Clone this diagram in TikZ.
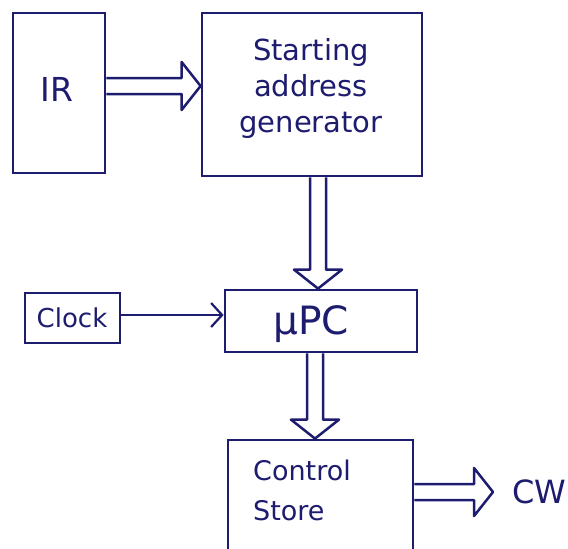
\documentclass[tikz,border=0pt]{standalone}
\usepackage{fontspec}
\setmainfont{DejaVu Sans}
\usetikzlibrary{calc,arrows.meta}
\definecolor{ink}{HTML}{1E1C6E}
\tikzset{
  box/.style={draw=ink, line width=2.8pt, inner sep=0pt},
  fat/.style={draw=ink, line width=2.5pt, line join=round,
    to path={
      let \p1=(\tikztostart), \p2=(\tikztotarget),
          \n1={atan2(\y2-\y1,\x2-\x1)}, \n2={veclen(\x2-\x1,\y2-\y1)} in
      [shift={(\p1)}, rotate=\n1]
      (0,-8) -- ({\n2-19},-8) -- ({\n2-19},-24) -- ({\n2},0)
      -- ({\n2-19},24) -- ({\n2-19},8) -- (0,8)
    }},
  thin/.style={draw=ink, line width=2.2pt,
    -{Straight Barb[length=11pt,width=24pt,line width=2.2pt]}},
  lbl/.style={text=ink, inner sep=0pt}
}
\begin{document}
\begin{tikzpicture}[x=1pt,y=-1pt]
\useasboundingbox (0,0) rectangle (568,549);
\fill[white] (0,0) rectangle (568,549);
\clip (0,0) rectangle (568,549);

% blocks
\node[box, minimum width=92pt, minimum height=160pt] (ir) at (59,93) {};
\node[box, minimum width=220pt, minimum height=163pt] (sag) at (312,94.5) {};
\node[box, minimum width=95pt, minimum height=50pt] (clk) at (72.5,318) {};
\node[box, minimum width=192pt, minimum height=62pt] (upc) at (321,321) {};
\node[box, minimum width=185pt, minimum height=130pt] (cs) at (320.5,505) {};

% labels
\node[lbl, font=\fontsize{33}{36}\selectfont] (irtxt) at (57,89) {IR};
\node[lbl, font=\fontsize{29}{36}\selectfont, align=center] (sagtxt) at (311,88)
      {Starting\\address\\generator};
\node[lbl, font=\fontsize{26}{30}\selectfont] (clktxt) at (72,318) {Clock};
\node[lbl, font=\fontsize{39}{42}\selectfont] (upctxt) at (311,324) {µPC};
\node[lbl, font=\fontsize{27}{40}\selectfont, align=left] (cstxt) at (302,490)
      {Control\\Store};
\node[lbl, anchor=west, font=\fontsize{32}{36}\selectfont] (cw) at (512,492) {CW};

% connectors
\draw[fat] ([yshift=7pt]ir.east) to ([yshift=8.5pt]sag.west);
\draw[fat] ([xshift=6pt]sag.south) to ([xshift=-3pt]upc.north);
\draw[fat] ([xshift=-6pt]upc.south) to ([xshift=-5.5pt]cs.north);
\draw[fat] ([yshift=13pt]cs.east) to ([xshift=-19pt]cw.west);
\draw[thin] (clk.east |- 0,315) -- (upc.west |- 0,315);
\end{tikzpicture}
\end{document}
